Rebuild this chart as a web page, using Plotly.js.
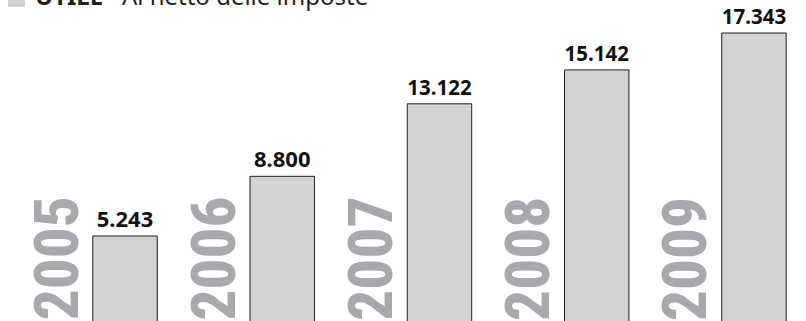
<!DOCTYPE html>
<html>
<head>
<meta charset="utf-8">
<script src="https://cdn.plot.ly/plotly-3.0.1.min.js"></script>
<style>
html,body{margin:0;padding:0;background:#fff;}
#chart{width:806px;height:321px;}
#chart .annotation:not([data-index="5"]) text{font-stretch:75%;}
</style>
</head>
<body>
<div id="chart"></div>
<script>
const years = ["2005", "2006", "2007", "2008", "2009"];
const utile = [5243, 8800, 13122, 15142, 17343];
const valueLabels = ["5.243", "8.800", "13.122", "15.142", "17.343"];
const titleBold = "UTILE";
const titleRest = "Al netto delle imposte";

const trace = {
  type: "bar",
  x: years,
  y: utile,
  text: valueLabels,
  textposition: "outside",
  texttemplate: "%{text}",
  cliponaxis: false,
  width: 0.41,
  textfont: {family: "Noto Sans, sans-serif", size: 22, color: "#111111", weight: "bold"},
  marker: {color: "#d1d3d4", line: {color: "#231f20", width: 1}},
  hoverinfo: "skip"
};

const yearAnnotations = years.map(function (yr, i) {
  return {
    x: i, xref: "x",
    y: 0, yref: "paper",
    xanchor: "center", yanchor: "bottom",
    xshift: -69, yshift: -10,
    text: yr,
    textangle: -90,
    showarrow: false,
    font: {family: "Roboto, Open Sans, sans-serif", size: 61, color: "#a7a9ac", weight: 800}
  };
});

const titleAnnotation = {
  x: 0, xref: "paper", xanchor: "left",
  y: 1, yref: "paper", yanchor: "bottom",
  xshift: 33, yshift: -14,
  text: "<b>" + titleBold + "</b>   " + titleRest,
  showarrow: false,
  font: {family: "Noto Sans, sans-serif", size: 24, color: "#231f20"}
};

const layout = {
  width: 806, height: 321,
  margin: {l: 0, r: 0, t: 0, b: 0},
  paper_bgcolor: "#ffffff",
  plot_bgcolor: "#ffffff",
  showlegend: false,
  xaxis: {type: "category", range: [-0.795, 4.331], showgrid: false, zeroline: false, showticklabels: false, ticks: "", showline: false},
  yaxis: {range: [176, 19310], showgrid: false, zeroline: false, showticklabels: false, ticks: "", showline: false},
  annotations: yearAnnotations.concat([titleAnnotation]),
  shapes: [{type: "rect", xref: "paper", yref: "paper", xsizemode: "pixel", ysizemode: "pixel", xanchor: 0, yanchor: 1, x0: 8, x1: 25, y0: 0, y1: -7, fillcolor: "#d1d3d4", line: {width: 0}}]
};

Plotly.newPlot("chart", [trace], layout, {displayModeBar: false, staticPlot: true});
</script>
</body>
</html>
